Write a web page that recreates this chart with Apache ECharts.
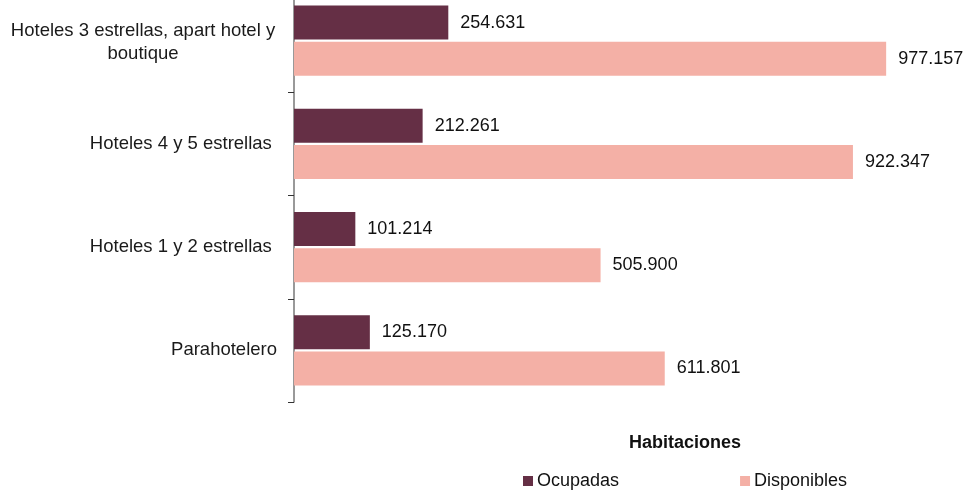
<!DOCTYPE html>
<html>
<head>
<meta charset="utf-8">
<script src="https://cdn.jsdelivr.net/npm/echarts@6/dist/echarts.min.js"></script>
<style>
  html, body { margin: 0; padding: 0; background: #fff; }
  #chart { width: 969px; height: 492px; }
</style>
</head>
<body>
<div id="chart"></div>
<script>
const categories = [
  'Hoteles 3 estrellas, apart hotel y\nboutique',
  'Hoteles 4 y 5 estrellas ',
  'Hoteles 1 y 2 estrellas ',
  'Parahotelero'
]
const ocupadas = [254631, 212261, 101214, 125170]
const disponibles = [977157, 922347, 505900, 611801]
const legendTitle = 'Habitaciones'

const font = 'Liberation Sans, Arial, Helvetica, sans-serif'

// 254631 -> "254.631"
function fmt(v) {
  return String(v).replace(/\B(?=(\d{3})+(?!\d))/g, '.')
}

const valueLabel = {
  show: true,
  position: 'right',
  distance: 12,
  fontSize: 18,
  color: '#111',
  fontFamily: font,
  formatter: p => fmt(p.value)
}

const chart = echarts.init(document.getElementById('chart'))
chart.setOption({
  animation: false,
  textStyle: { fontFamily: font },
  title: {
    text: legendTitle,
    left: 624,
    top: 429,
    textStyle: { fontSize: 18, fontWeight: 'bold', color: '#111', fontFamily: font }
  },
  legend: {
    data: ['Ocupadas', 'Disponibles'],
    left: 518,
    top: 467,
    icon: 'rect',
    itemWidth: 10,
    itemHeight: 10,
    itemGap: 121,
    textStyle: { fontSize: 18, color: '#111', fontFamily: font, padding: [0, 0, 0, -1] }
  },
  grid: { left: 294, right: 69, top: -11, bottom: 90, outerBoundsMode: 'none' },
  xAxis: {
    type: 'value',
    min: 0,
    max: 1000000,
    show: false
  },
  yAxis: {
    type: 'category',
    inverse: true,
    data: categories,
    axisLine: { show: true, lineStyle: { color: '#777', width: 1.5 } },
    axisTick: { show: true, length: 6, lineStyle: { color: '#333' } },
    axisLabel: {
      margin: 17,
      fontSize: 18.5,
      color: '#1a1a1a',
      fontFamily: font,
      lineHeight: 23,
      formatter: function (v) {
        if (v.indexOf('\n') >= 0) {
          return v.split('\n').map(s => '{c|' + s + '}').join('\n')
        }
        return v
      },
      rich: {
        c: { width: 268, align: 'center', fontSize: 18.5, lineHeight: 23, color: '#1a1a1a', fontFamily: font, padding: [3, 0, 0, 0] }
      }
    }
  },
  series: [
    {
      name: 'Ocupadas',
      type: 'bar',
      data: ocupadas,
      barWidth: 34,
      barGap: '6%',
      itemStyle: { color: '#652f45' },
      label: valueLabel
    },
    {
      name: 'Disponibles',
      type: 'bar',
      data: disponibles,
      barWidth: 34,
      barGap: '6%',
      itemStyle: { color: '#f4b0a6' },
      label: valueLabel
    }
  ]
})
</script>
</body>
</html>
